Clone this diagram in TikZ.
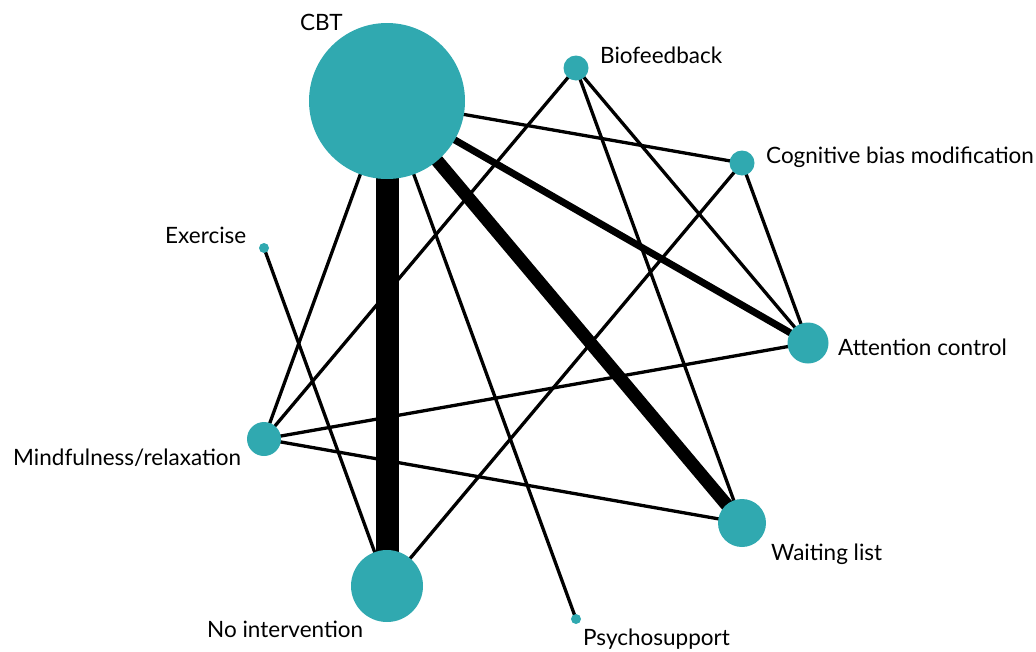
\documentclass[tikz,border=0pt]{standalone}
\usepackage{fontspec}
\setmainfont{Lato}
\usetikzlibrary{backgrounds}
\definecolor{nodeteal}{RGB}{48,169,176}

\begin{document}
\begin{tikzpicture}[x=1pt, y=-1pt, font=\fontsize{22.5}{27}\selectfont,
    trt/.style={circle, fill=nodeteal, inner sep=0pt, minimum size=#1},
    lbl/.style={inner sep=0pt, anchor=base west},
    link/.style={line width=#1}]
        \useasboundingbox (0,0) rectangle (1036,651);
        % treatments
        \node[trt=156pt] (cbt) at (387,101) {};
        \node[trt=25pt] (bio) at (576,68) {};
        \node[trt=25pt] (cbm) at (742,163) {};
        \node[trt=41pt] (attn) at (808,343) {};
        \node[trt=48pt] (wait) at (742,523) {};
        \node[trt=10pt] (psy) at (576,619) {};
        \node[trt=72pt] (noint) at (387,586) {};
        \node[trt=34pt] (mind) at (264,439) {};
        \node[trt=10pt] (exer) at (264,248) {};

        % labels
        \node[lbl] (lcbt) at (300,30) {CBT};
        \node[lbl] (lbio) at (600,63) {Biofeedback};
        \node[lbl] (lcbm) at (766,163) {Cognitive bias modification};
        \node[lbl] (lattn) at (838,355) {Attention control};
        \node[lbl] (lwait) at (771,560) {Waiting list};
        \node[lbl] (lpsy) at (583,645) {Psychosupport};
        \node[lbl] (lnoint) at (207,637) {No intervention};
        \node[lbl] (lmind) at (13,465) {Mindfulness/relaxation};
        \node[lbl] (lexer) at (165,243) {Exercise};

        % comparisons
        \begin{scope}[on background layer]
            \draw[link=23pt] (cbt.center) -- (noint.center);
            \draw[link=13pt] (cbt.center) -- (wait.center);
            \draw[link=7pt] (cbt.center) -- (attn.center);
            \draw[link=3.3pt] (cbt.center) -- (cbm.center);
            \draw[link=3.3pt] (cbt.center) -- (mind.center);
            \draw[link=3.3pt] (cbt.center) -- (psy.center);
            \draw[link=3.3pt] (bio.center) -- (mind.center);
            \draw[link=3.3pt] (bio.center) -- (attn.center);
            \draw[link=3.3pt] (bio.center) -- (wait.center);
            \draw[link=3.3pt] (cbm.center) -- (attn.center);
            \draw[link=3.3pt] (cbm.center) -- (noint.center);
            \draw[link=3.3pt] (exer.center) -- (noint.center);
            \draw[link=3.3pt] (mind.center) -- (attn.center);
            \draw[link=3.3pt] (mind.center) -- (wait.center);
        \end{scope}
    \end{tikzpicture}
\end{document}
